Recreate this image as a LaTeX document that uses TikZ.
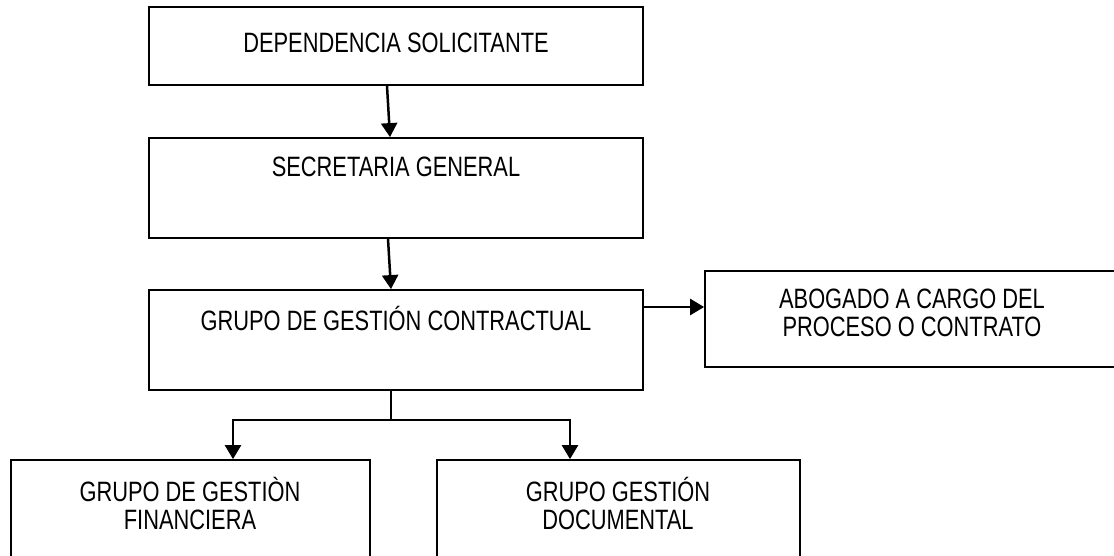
\documentclass[tikz,border=0pt]{standalone}
\usepackage{fontspec}
\setmainfont{Liberation Sans}[FakeStretch=0.78]
\usetikzlibrary{arrows.meta,calc}
\tikzset{
  caja/.style={draw,line width=0.9pt,minimum width=247pt,inner sep=0pt},
  texto/.style={font=\fontsize{14}{14}\selectfont,align=center,inner sep=0pt},
  linea/.style={line width=1.25pt},
  flecha/.style={line width=1.25pt,-{Triangle[width=8pt,length=7pt]}}
}
\begin{document}
\begin{tikzpicture}[x=0.5pt,y=-0.5pt]
      \useasboundingbox (0,0) rectangle (1114,556);
      \node[caja,minimum height=39pt] (dep) at (396,46) {};
      \node[texto] (tdep) at (396,43) {DEPENDENCIA SOLICITANTE};
      \node[caja,minimum height=50pt] (sec) at (396,188) {};
      \node[texto] (tsec) at (396,167) {SECRETARIA GENERAL};
      \node[caja,minimum height=50pt] (grp) at (396,340) {};
      \node[texto] (tgrp) at (396,318) {GRUPO DE GESTIÓN CONTRACTUAL};
      \node[caja,minimum width=207.5pt,minimum height=48pt] (abo) at (912.5,319) {};
      \node[texto] (tabo) at (912,313) {ABOGADO A CARGO DEL\\PROCESO O CONTRATO};
      \node[caja,minimum width=179.5pt,minimum height=60pt] (fin) at (190.5,520) {};
      \node[texto] (tfin) at (190,503) {GRUPO DE GESTIÒN\\FINANCIERA};
      \node[caja,minimum width=181.5pt,minimum height=60pt] (doc) at (618.5,520) {};
      \node[texto] (tdoc) at (618,503) {GRUPO GESTIÓN\\DOCUMENTAL};
      \draw[flecha] ($(dep.south)+(-9,0)$) -- ($(sec.north)+(-6,0)$);
      \draw[flecha] ($(sec.south)+(-8,0)$) -- ($(grp.north)+(-5,0)$);
      \draw[flecha] ($(grp.east)+(0,-33)$) -- ($(abo.west)+(0,-12)$);
      \coordinate (rama) at (391,420);
      \draw[linea] ($(grp.south)+(-5,0)$) -- (rama);
      \draw[flecha] (rama) -| ($(fin.north)+(42.5,0)$);
      \draw[flecha] (rama) -| ($(doc.north)+(-48.5,0)$);
     \end{tikzpicture}
\end{document}
